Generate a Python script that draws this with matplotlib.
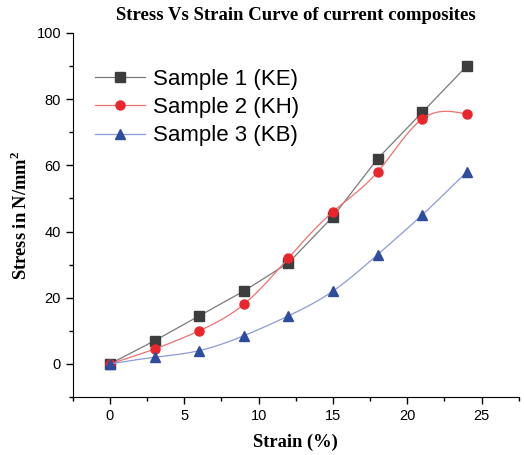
import numpy as np
import matplotlib.pyplot as plt
from matplotlib.ticker import MultipleLocator

strain = [0, 3, 6, 9, 12, 15, 18, 21, 24]
sample1 = [0, 7, 14.5, 22, 30.5, 44.5, 62, 76, 90]
sample2 = [0, 4.5, 10, 18, 32, 46, 58, 74, 75.5]
sample3 = [0, 2, 4, 8.5, 14.5, 22, 33, 45, 58]
labels = ['Sample 1 (KE)', 'Sample 2 (KH)', 'Sample 3 (KB)']

plt.rcParams['mathtext.fontset'] = 'custom'
plt.rcParams['mathtext.rm'] = 'Liberation Serif:bold'


def spline(x, y, n=300):
    # natural cubic spline, only for drawing the smooth connecting line
    x = np.asarray(x, float)
    y = np.asarray(y, float)
    k = len(x)
    h = np.diff(x)
    A = np.zeros((k, k))
    b = np.zeros(k)
    A[0, 0] = A[-1, -1] = 1
    for i in range(1, k - 1):
        A[i, i - 1] = h[i - 1]
        A[i, i] = 2 * (h[i - 1] + h[i])
        A[i, i + 1] = h[i]
        b[i] = 3 * ((y[i + 1] - y[i]) / h[i] - (y[i] - y[i - 1]) / h[i - 1])
    c = np.linalg.solve(A, b)
    xs = np.linspace(x[0], x[-1], n)
    idx = np.clip(np.searchsorted(x, xs) - 1, 0, k - 2)
    dx = xs - x[idx]
    bb = (y[idx + 1] - y[idx]) / h[idx] - h[idx] * (2 * c[idx] + c[idx + 1]) / 3
    dd = (c[idx + 1] - c[idx]) / (3 * h[idx])
    ys = y[idx] + bb * dx + c[idx] * dx ** 2 + dd * dx ** 3
    return xs, ys


fig = plt.figure(figsize=(5.24, 4.55), dpi=100)
ax = fig.add_axes([0.139, 0.1275, 0.851, 0.80])

ax.plot(strain, sample1, color='#7a7a7a', lw=0.9)
ax.plot(strain, sample1, 's', color='#3d3d3d', ms=6.5, ls='none')
xs, ys = spline(strain, sample2)
ax.plot(xs, ys, color='#f07070', lw=0.9)
ax.plot(strain, sample2, 'o', color='#e8262b', ms=6.5, ls='none')
xs, ys = spline(strain, sample3)
ax.plot(xs, ys, color='#8c9ad8', lw=0.9)
ax.plot(strain, sample3, '^', color='#2f4d9e', ms=7.5, ls='none')

# legend handles
h1, = ax.plot([], [], 's-', color='#7a7a7a', mfc='#3d3d3d', mec='#3d3d3d', ms=6.5, lw=0.9)
h2, = ax.plot([], [], 'o-', color='#f07070', mfc='#e8262b', mec='#e8262b', ms=6.5, lw=0.9)
h3, = ax.plot([], [], '^-', color='#8c9ad8', mfc='#2f4d9e', mec='#2f4d9e', ms=7.5, lw=0.9)
ax.legend([h1, h2, h3], labels, loc='upper left', bbox_to_anchor=(0.049, 0.902),
          frameon=False, prop={'family': 'Liberation Sans', 'size': 16},
          handlelength=2.27, handletextpad=0.36, labelspacing=0.33, borderaxespad=0,
          borderpad=0)

ax.set_xlim(-2.5, 27.5)
ax.set_ylim(-10, 100)
ax.xaxis.set_major_locator(MultipleLocator(5))
ax.xaxis.set_minor_locator(MultipleLocator(2.5))
ax.yaxis.set_major_locator(MultipleLocator(20))
ax.yaxis.set_minor_locator(MultipleLocator(10))
ax.spines['top'].set_visible(False)
ax.spines['right'].set_visible(False)
ax.tick_params(which='major', direction='out', length=5, width=1, labelsize=10.5)
ax.tick_params(which='minor', direction='out', length=3, width=1)
for lab in ax.get_xticklabels() + ax.get_yticklabels():
    lab.set_family('Liberation Sans')

ax.set_title('Stress Vs Strain Curve of current composites', fontfamily='Liberation Serif',
             fontweight='bold', fontsize=13.5, pad=9)
ax.set_xlabel('Strain (%)', fontfamily='Liberation Serif', fontweight='bold', fontsize=13.3, labelpad=8)
ax.set_ylabel('Stress in N/mm$^2$', fontfamily='Liberation Serif', fontweight='bold', fontsize=13.3, labelpad=4)

fig.savefig('out.png', dpi=100)
